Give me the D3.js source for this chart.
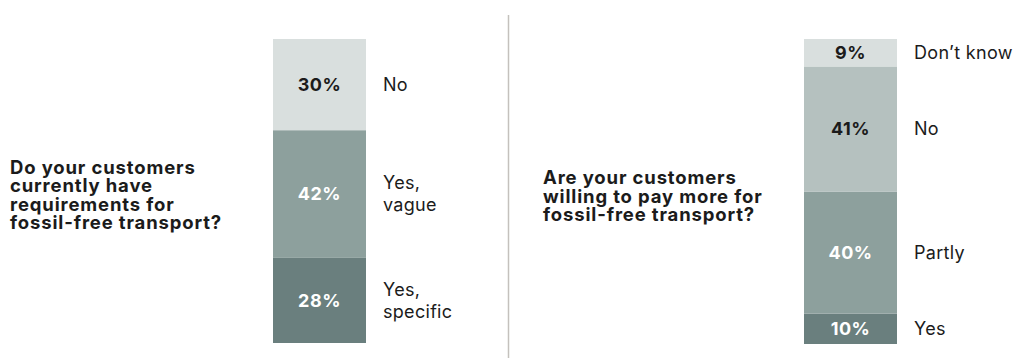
<!DOCTYPE html>
<html>
<head>
<meta charset="utf-8">
<script src="https://cdn.jsdelivr.net/npm/d3@7"></script>
<style>
  body { margin: 0; background: #fff; }
  svg { display: block; font-family: Inter, "Noto Sans", sans-serif; }
</style>
</head>
<body>
<svg id="chart"></svg>
<script>
// data, bottom segment first
const leftQuestion = ['Do your customers', 'currently have', 'requirements for', 'fossil-free transport?'];
const leftCategories = [['Yes,', 'specific'], ['Yes,', 'vague'], ['No']];
const leftValues = [28, 42, 30];

const rightQuestion = ['Are your customers', 'willing to pay more for', 'fossil-free transport?'];
const rightCategories = [['Yes'], ['Partly'], ['No'], ['Don’t know']];
const rightValues = [10, 40, 41, 9];

const width = 1025;
const height = 361;

const svg = d3.select('#chart')
  .attr('width', width)
  .attr('height', height);

// divider between the two questions
svg.append('line')
  .attr('x1', 508.5).attr('x2', 508.5)
  .attr('y1', 15).attr('y2', 358)
  .attr('stroke', '#c4c1bd')
  .attr('stroke-width', 1.5);

function drawPanel(opts) {
  const { question, categories, values, colors, textColors, qx, qy, barX, barTop, barBottom } = opts;
  const barWidth = 93;

  const y = d3.scaleLinear()
    .domain([0, d3.sum(values)])
    .range([barBottom, barTop]);

  const ends = d3.cumsum(values);
  const segs = values.map((v, i) => ({ v, lo: ends[i] - v, hi: ends[i], cat: categories[i], i }));

  const g = svg.append('g');

  // question text, tight leading as in the original
  g.append('text')
    .attr('x', qx)
    .attr('y', qy)
    .attr('font-size', 18.5)
    .attr('font-weight', 700)
    .attr('letter-spacing', 0.85)
    .attr('fill', '#1b1b1b')
    .selectAll('tspan')
    .data(question)
    .join('tspan')
    .attr('x', qx)
    .attr('dy', (d, i) => i === 0 ? 0 : 18.6)
    .text(d => d);

  g.selectAll('rect')
    .data(segs)
    .join('rect')
    .attr('x', barX)
    .attr('width', barWidth)
    .attr('y', d => y(d.hi))
    .attr('height', d => y(d.lo) - y(d.hi))
    .attr('fill', d => colors[d.i]);

  // percent labels
  g.selectAll('text.pct')
    .data(segs)
    .join('text')
    .attr('class', 'pct')
    .attr('x', barX + barWidth / 2)
    .attr('y', d => (y(d.lo) + y(d.hi)) / 2)
    .attr('dy', '0.35em')
    .attr('text-anchor', 'middle')
    .attr('font-size', 18)
    .attr('font-weight', 700)
    .attr('letter-spacing', 0.5)
    .attr('fill', d => textColors[d.i])
    .text(d => d.v + '%');

  // category labels
  g.selectAll('text.cat')
    .data(segs)
    .join('text')
    .attr('class', 'cat')
    .attr('font-size', 18)
    .attr('letter-spacing', 0.3)
    .attr('fill', '#1b1b1b')
    .each(function (d) {
      const mid = (y(d.lo) + y(d.hi)) / 2;
      const lh = 22;
      const start = mid - (d.cat.length - 1) * lh / 2;
      d3.select(this).selectAll('tspan')
        .data(d.cat)
        .join('tspan')
        .attr('x', barX + barWidth + 17)
        .attr('y', (t, j) => start + j * lh)
        .attr('dy', '0.35em')
        .text(t => t);
    });
}

drawPanel({
  question: leftQuestion,
  categories: leftCategories,
  values: leftValues,
  colors: ['#6a7f7e', '#8da09d', '#d9dfde'],
  textColors: ['#fff', '#fff', '#1b1b1b'],
  qx: 10, qy: 173.5,
  barX: 273, barTop: 39, barBottom: 343
});

drawPanel({
  question: rightQuestion,
  categories: rightCategories,
  values: rightValues,
  colors: ['#6a7f7e', '#8da09d', '#b5c1bf', '#d9dfde'],
  textColors: ['#fff', '#fff', '#1b1b1b', '#1b1b1b'],
  qx: 543, qy: 184,
  barX: 804, barTop: 39, barBottom: 344
});
</script>
</body>
</html>
